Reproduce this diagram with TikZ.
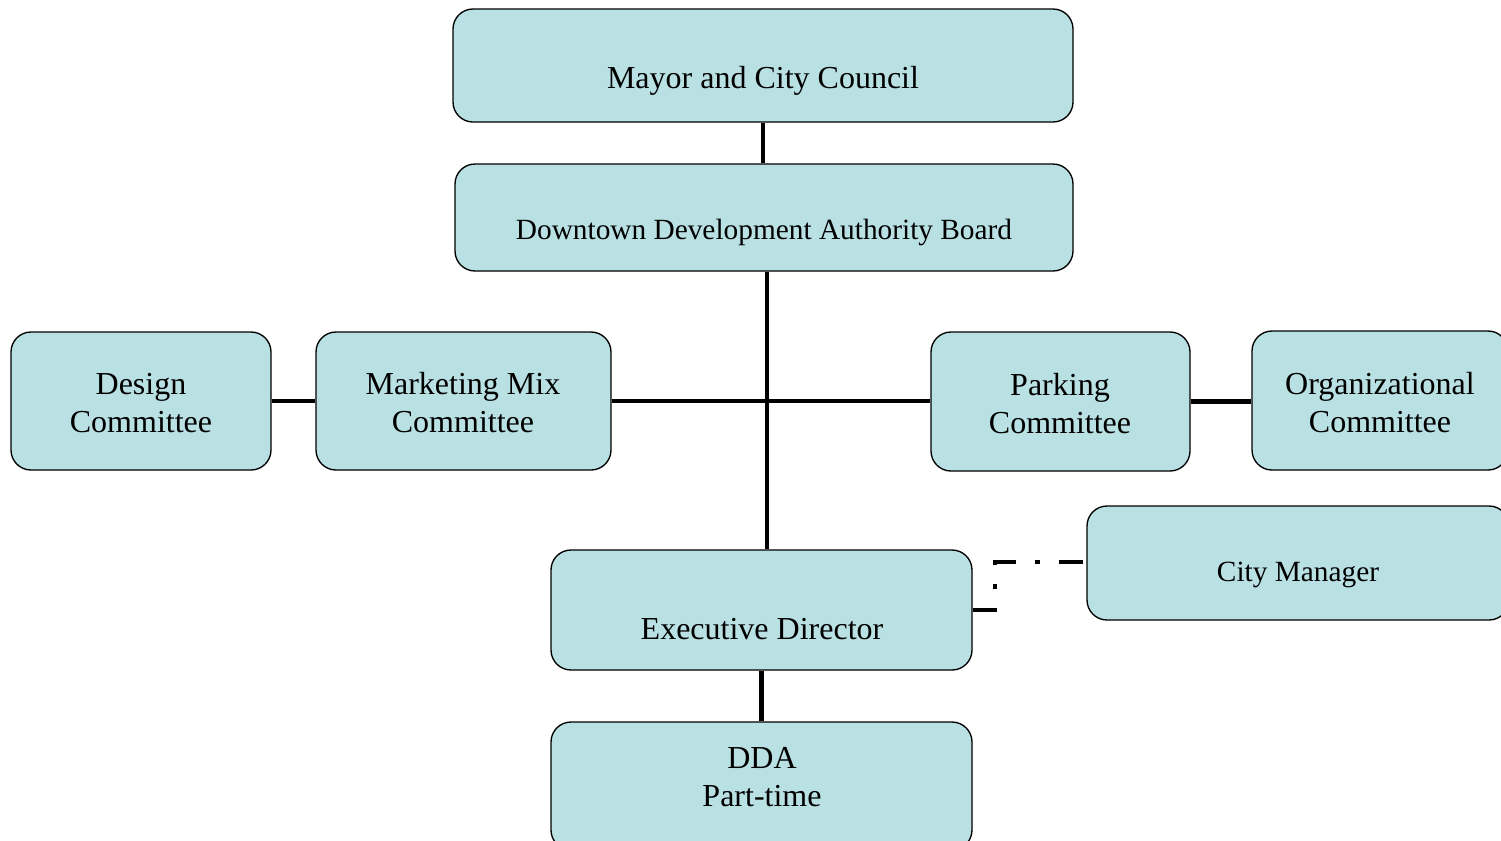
\documentclass[tikz,border=0pt]{standalone}
\usepackage{fontspec}
\setmainfont{Liberation Serif}
\definecolor{boxfill}{RGB}{185,224,227}
\begin{document}
\begin{tikzpicture}[x=0.75pt,y=-0.75pt,
  box/.style n args={2}{draw=black, line width=1pt, fill=boxfill, rounded corners=15pt,
    inner sep=0pt, minimum width=#1*0.75pt, minimum height=#2*0.75pt},
  lbl/.style={align=center, inner sep=0pt, font=\fontsize{24}{28.5}\selectfont},
  lblsm/.style={align=center, inner sep=0pt, font=\fontsize{22}{26}\selectfont},
  link/.style={line width=3.4pt},
  dotlink/.style={line width=3.4pt, dash pattern=on 18pt off 14.25pt on 3.75pt off 14.25pt}]
\clip (0,0) rectangle (1501,840);
\fill[white] (0,0) rectangle (1501,840);

% boxes
\node[box={620}{113}] (mayor) at (763,65.5) {};
\node[box={618}{107}] (board) at (764,217.5) {};
\node[box={260}{138}] (design) at (141,401) {};
\node[box={295}{138}] (market) at (463.5,401) {};
\node[box={259}{139}] (parking) at (1060.5,401.5) {};
\node[box={256}{139}] (org) at (1380,400.5) {};
\node[box={422}{114}] (citymgr) at (1298,563) {};
\node[box={421}{120}] (exec) at (761.5,610) {};
\node[box={421}{128}] (dda) at (761.5,786) {};

% connectors
\coordinate (trunk) at (767,0);
\draw[link] (mayor.south) -- (mayor.south |- board.north);
\draw[link] (board.south -| trunk) -- (exec.north -| trunk);
\draw[link] (market.east) -- (market.east -| parking.west);
\draw[link] (design.east) -- (design.east -| market.west);
\draw[link] (parking.east) -- (parking.east -| org.west);
\draw[link] (exec.south) -- (exec.south |- dda.north);
\coordinate (bend) at (995,562);
\draw[dotlink] (exec.east) -- (exec.east -| bend) -- (bend) -- (citymgr.west |- bend);

% labels
\node[lbl] (tmayor) at (763,81) {Mayor and City Council};
\node[lblsm] (tboard) at (764,232) {Downtown Development Authority Board};
\node[lbl] (tdesign) at (141,403) {Design\\Committee};
\node[lbl] (tmarket) at (463,403) {Marketing Mix\\Committee};
\node[lbl] (tparking) at (1060,404) {Parking\\Committee};
\node[lbl] (torg) at (1380,403) {Organizational\\Committee};
\node[lblsm] (tcity) at (1298,575) {City Manager};
\node[lbl] (texec) at (762,629) {Executive Director};
\node[lbl] (tdda) at (762,777) {DDA\\Part-time};
\end{tikzpicture}
\end{document}
